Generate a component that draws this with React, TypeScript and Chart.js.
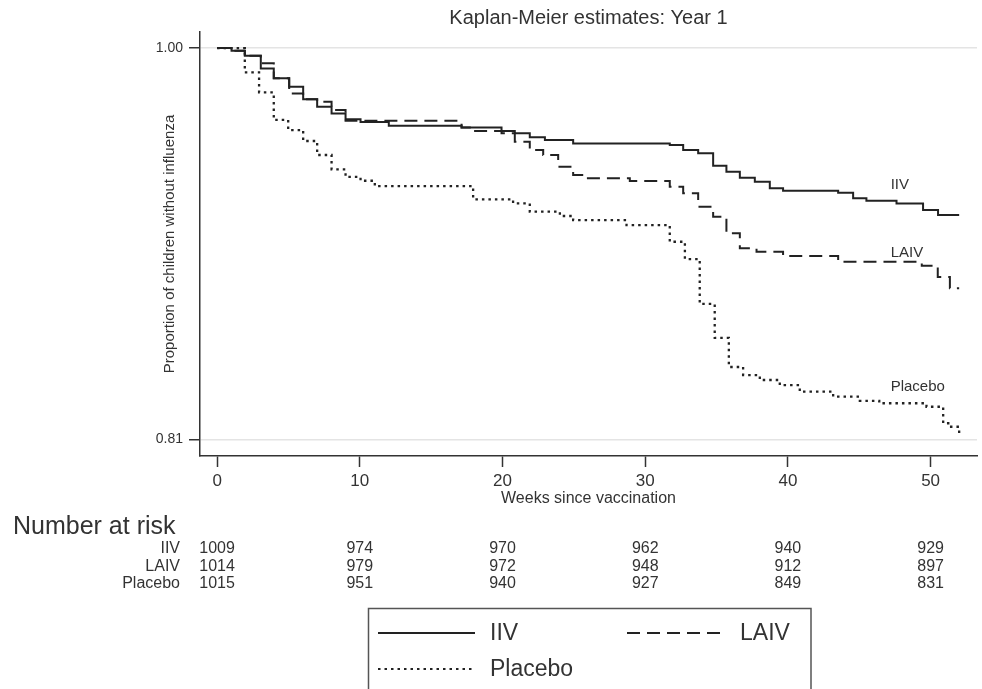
import React, { useEffect, useRef } from "react";
import { Chart, registerables } from "chart.js";

Chart.register(...registerables);

// ---- Data (Kaplan-Meier step estimates) ----
const iivWeeks = [0, 1.01, 1.94, 3.06, 3.97, 5.05, 6.03, 7.01, 8.02, 9.0, 10.05, 12.03, 17.13, 19.93, 20.86, 21.91, 22.97, 24.95, 31.72, 32.66, 33.71, 34.76, 35.69, 36.63, 37.68, 38.73, 39.66, 43.52, 44.57, 45.5, 47.61, 49.47, 50.52, 52];
const iivSurv = [1, 0.9987, 0.9963, 0.9901, 0.9853, 0.9812, 0.9752, 0.9715, 0.9683, 0.9654, 0.9641, 0.9623, 0.9615, 0.9597, 0.9586, 0.9567, 0.9554, 0.9537, 0.9529, 0.9505, 0.9489, 0.9429, 0.94, 0.9371, 0.9351, 0.9319, 0.9307, 0.9298, 0.9271, 0.9259, 0.9246, 0.9214, 0.919, 0.919];

const laivWeeks = [0, 1.01, 1.94, 3.06, 3.97, 5.05, 6.03, 7.01, 8.02, 9.0, 17.13, 17.94, 19.93, 20.86, 21.91, 22.85, 23.9, 24.95, 25.89, 28.92, 31.72, 32.66, 33.71, 34.76, 35.69, 36.63, 37.8, 39.66, 43.52, 49.38, 50.5, 51.35, 52];
const laivSurv = [1, 0.9987, 0.9963, 0.9926, 0.9853, 0.978, 0.9752, 0.9739, 0.9699, 0.9647, 0.9615, 0.9597, 0.9586, 0.9545, 0.9505, 0.9481, 0.9424, 0.9384, 0.9368, 0.9355, 0.9327, 0.9295, 0.923, 0.9181, 0.9101, 0.9028, 0.9011, 0.8991, 0.8963, 0.8944, 0.8889, 0.8834, 0.8834];

const placeboWeeks = [0, 1.94, 2.94, 3.97, 4.98, 6.03, 7.01, 8.02, 9.0, 10.05, 11.05, 17.94, 20.74, 21.91, 24.02, 24.95, 28.69, 31.72, 32.78, 33.82, 34.87, 35.86, 36.86, 38.03, 39.43, 40.83, 43.17, 45.04, 46.4, 49.71, 50.88, 51.35, 52];
const placeboSurv = [1, 0.9882, 0.9785, 0.9651, 0.9602, 0.9549, 0.9481, 0.9411, 0.9375, 0.9356, 0.933, 0.9266, 0.9246, 0.9206, 0.9185, 0.9165, 0.9141, 0.906, 0.8976, 0.8758, 0.8593, 0.8452, 0.8413, 0.8389, 0.8364, 0.8332, 0.8308, 0.8288, 0.8276, 0.8259, 0.8179, 0.8162, 0.8112];

const groupNames = ["IIV", "LAIV", "Placebo"];
const riskTimes = [0, 10, 20, 30, 40, 50];
const riskIIV = [1009, 974, 970, 962, 940, 929];
const riskLAIV = [1014, 979, 972, 948, 912, 897];
const riskPlacebo = [1015, 951, 940, 927, 849, 831];

const xTickValues = [0, 10, 20, 30, 40, 50];
const yTickValues = [0.81, 1.0];

const FONT = '"Liberation Sans", Arial, Helvetica, sans-serif';
const NARROW = '"Liberation Sans Narrow", "Liberation Sans", Arial, sans-serif';
const INK = "#222";
const TXT = "#333";

const toPoints = (w: number[], s: number[]) => w.map((x, i) => ({ x, y: s[i] }));

const overlayPlugin = {
  id: "kmOverlay",
  afterDraw(chart: any, _args: any, opts: any) {
    const ctx = chart.ctx as CanvasRenderingContext2D;
    const xs = chart.scales.x;
    const ys = chart.scales.y;
    ctx.save();

    // curve labels at the right end of each curve
    ctx.fillStyle = TXT;
    ctx.textAlign = "left";
    ctx.textBaseline = "middle";
    ctx.font = `15px ${FONT}`;
    (opts.curveLabels || []).forEach((l: any) => {
      ctx.fillText(l.text, xs.getPixelForValue(l.week), ys.getPixelForValue(l.value));
    });

    // number at risk table
    ctx.font = `25px ${FONT}`;
    ctx.fillText("Number at risk", opts.table.titleX, opts.table.titleY);
    const rows = [riskIIV, riskLAIV, riskPlacebo];
    rows.forEach((row, r) => {
      const yy = opts.table.firstRowY + r * opts.table.rowGap;
      ctx.font = `16px ${FONT}`;
      ctx.textAlign = "right";
      ctx.fillText(groupNames[r], opts.table.labelRight, yy);
      ctx.font = `16px ${NARROW}`;
      ctx.textAlign = "center";
      row.forEach((n, c) => {
        ctx.fillText(String(n), xs.getPixelForValue(riskTimes[c]), yy);
      });
    });

    // legend box
    const L = opts.legendBox;
    ctx.strokeStyle = "#555";
    ctx.lineWidth = 1.5;
    ctx.strokeRect(L.left, L.top, L.right - L.left, L.bottom - L.top);
    const samples = [
      { dash: [] as number[], x0: 378, x1: 475, tx: 490, y: 633 },
      { dash: [13, 7], x0: 627, x1: 725, tx: 740, y: 633 },
      { dash: [2.5, 4], x0: 378, x1: 475, tx: 490, y: 669 },
    ];
    samples.forEach((s, i) => {
      ctx.strokeStyle = INK;
      ctx.lineWidth = 2;
      ctx.setLineDash(s.dash);
      ctx.beginPath();
      ctx.moveTo(s.x0, s.y);
      ctx.lineTo(s.x1, s.y);
      ctx.stroke();
      ctx.setLineDash([]);
      ctx.fillStyle = TXT;
      ctx.font = `23px ${FONT}`;
      ctx.textAlign = "left";
      ctx.textBaseline = "middle";
      ctx.fillText(groupNames[i], s.tx, s.y + 1);
    });

    ctx.restore();
  },
};

export default function App() {
  const ref = useRef<HTMLCanvasElement | null>(null);

  useEffect(() => {
    if (!ref.current) return;
    const chart = new Chart(ref.current, {
      type: "line",
      data: {
        datasets: [
          {
            label: "Placebo",
            data: toPoints(placeboWeeks, placeboSurv),
            borderColor: INK,
            borderWidth: 2.3,
            borderDash: [2.5, 4],
            stepped: "before",
            pointRadius: 0,
            fill: false,
          },
          {
            label: "LAIV",
            data: toPoints(laivWeeks, laivSurv),
            borderColor: INK,
            borderWidth: 2,
            borderDash: [13, 7],
            stepped: "before",
            pointRadius: 0,
            fill: false,
          },
          {
            label: "IIV",
            data: toPoints(iivWeeks, iivSurv),
            borderColor: INK,
            borderWidth: 2,
            stepped: "before",
            pointRadius: 0,
            fill: false,
          },
        ],
      },
      options: {
        animation: false,
        responsive: false,
        events: [],
        layout: { padding: { top: 0, left: 0, right: 5, bottom: 178 } },
        scales: {
          x: {
            type: "linear",
            min: -1.2,
            max: 53.25,
            afterFit: (s: any) => {
              s.height = 55;
            },
            afterBuildTicks: (s: any) => {
              s.ticks = xTickValues.map((v) => ({ value: v }));
            },
            ticks: {
              font: { size: 17, family: NARROW },
              color: TXT,
              padding: 4,
              maxRotation: 0,
              autoSkip: false,
            },
            grid: {
              drawOnChartArea: false,
              drawTicks: true,
              tickColor: "#333",
              tickLength: 11,
              tickWidth: 1.5,
            },
            border: { display: true, color: "#333", width: 1.5 },
            title: {
              display: true,
              text: "Weeks since vaccination",
              font: { size: 16, family: FONT },
              color: TXT,
              padding: { top: 0, bottom: 2.4 },
            },
          },
          y: {
            type: "linear",
            min: 0.802,
            max: 1.0078,
            afterFit: (s: any) => {
              s.width = 200;
            },
            afterBuildTicks: (s: any) => {
              s.ticks = yTickValues.map((v) => ({ value: v }));
            },
            ticks: {
              callback: (v: any) => Number(v).toFixed(2),
              font: { size: 14, family: FONT },
              color: TXT,
              padding: 6,
            },
            grid: {
              color: "#e4e4e4",
              lineWidth: 1.5,
              tickColor: "#333",
              tickLength: 11,
              tickWidth: 1.5,
            },
            border: { display: true, color: "#333", width: 1.5 },
            title: {
              display: true,
              text: "Proportion of children without influenza",
              font: { size: 15, family: FONT },
              color: TXT,
              padding: { top: 161, bottom: 0 },
            },
          },
        },
        plugins: {
          legend: { display: false },
          tooltip: { enabled: false },
          title: {
            display: true,
            text: "Kaplan-Meier estimates: Year 1",
            fullSize: false,
            font: { size: 20, family: FONT, weight: "normal" },
            color: TXT,
            padding: { top: 6, bottom: 2 },
          },
          kmOverlay: {
            curveLabels: [
              { text: "IIV", week: 47.2, value: 0.9335 },
              { text: "LAIV", week: 47.2, value: 0.9005 },
              { text: "Placebo", week: 47.2, value: 0.8355 },
            ],
            table: { titleX: 13, titleY: 527, firstRowY: 549, rowGap: 17.3, labelRight: 180 },
            legendBox: { left: 368.5, top: 608.5, right: 811, bottom: 720 },
          },
        } as any,
      },
      plugins: [overlayPlugin],
    } as any);
    return () => chart.destroy();
  }, []);

  return (
    <div style={{ position: "absolute", left: 0, top: 0, width: 982, height: 689, background: "#fff" }}>
      <canvas ref={ref} width={982} height={689} style={{ display: "block" }} />
    </div>
  );
}
